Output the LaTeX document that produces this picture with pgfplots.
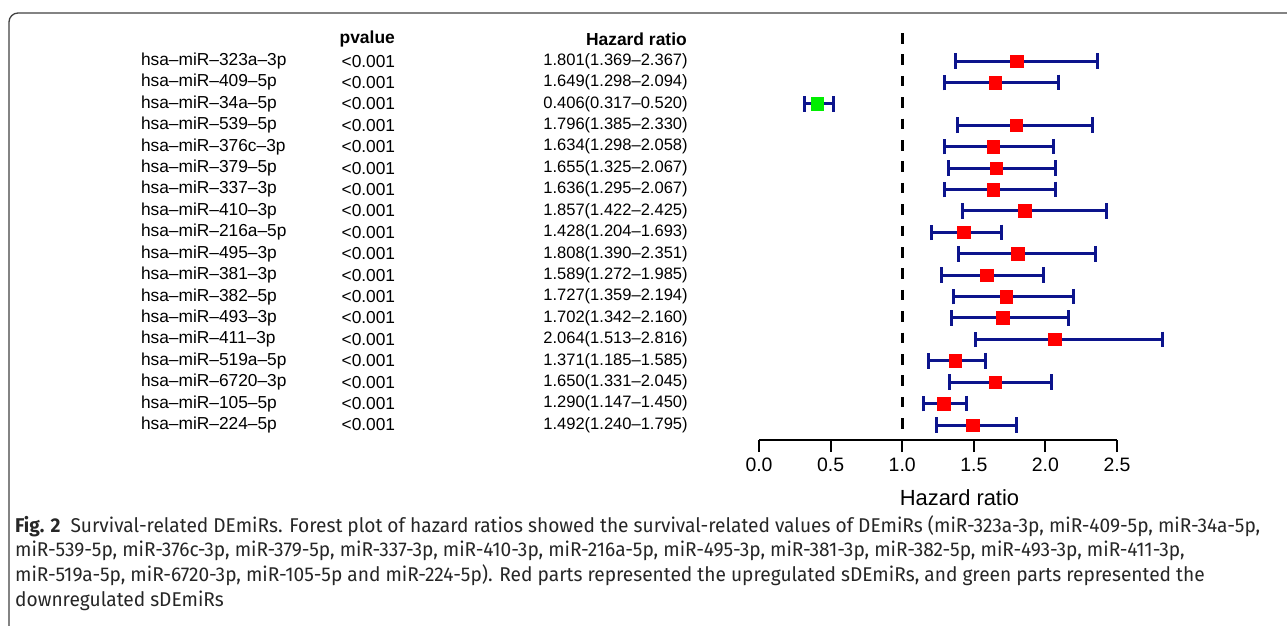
\documentclass[border=0pt]{standalone}
\usepackage{fontspec}
\setmainfont{Liberation Sans}
\newfontfamily\capfont[FakeStretch=0.96]{Fira Sans}
\usepackage{pgfplots}
\pgfplotsset{compat=1.18}
\usepackage{pgfplotstable}

\definecolor{barblue}{RGB}{12,20,140}
\definecolor{sqred}{RGB}{255,0,0}
\definecolor{sqgreen}{RGB}{0,238,0}

\newcommand\rowfont{\fontsize{17.4}{20}\selectfont}
\newcommand\hrfont{\fontsize{16.6}{20}\selectfont}

% hazard ratios with 95% CI, row 1 at the top
\pgfplotstableread{
idx name            pv     hr    lo    hi    lab
1   hsa–miR–323a–3p  <0.001 1.801 1.369 2.367 1.801(1.369–2.367)
2   hsa–miR–409–5p   <0.001 1.649 1.298 2.094 1.649(1.298–2.094)
3   hsa–miR–34a–5p   <0.001 0.406 0.317 0.520 0.406(0.317–0.520)
4   hsa–miR–539–5p   <0.001 1.796 1.385 2.330 1.796(1.385–2.330)
5   hsa–miR–376c–3p  <0.001 1.634 1.298 2.058 1.634(1.298–2.058)
6   hsa–miR–379–5p   <0.001 1.655 1.325 2.067 1.655(1.325–2.067)
7   hsa–miR–337–3p   <0.001 1.636 1.295 2.067 1.636(1.295–2.067)
8   hsa–miR–410–3p   <0.001 1.857 1.422 2.425 1.857(1.422–2.425)
9   hsa–miR–216a–5p  <0.001 1.428 1.204 1.693 1.428(1.204–1.693)
10  hsa–miR–495–3p   <0.001 1.808 1.390 2.351 1.808(1.390–2.351)
11  hsa–miR–381–3p   <0.001 1.589 1.272 1.985 1.589(1.272–1.985)
12  hsa–miR–382–5p   <0.001 1.727 1.359 2.194 1.727(1.359–2.194)
13  hsa–miR–493–3p   <0.001 1.702 1.342 2.160 1.702(1.342–2.160)
14  hsa–miR–411–3p   <0.001 2.064 1.513 2.816 2.064(1.513–2.816)
15  hsa–miR–519a–5p  <0.001 1.371 1.185 1.585 1.371(1.185–1.585)
16  hsa–miR–6720–3p  <0.001 1.650 1.331 2.045 1.650(1.331–2.045)
17  hsa–miR–105–5p   <0.001 1.290 1.147 1.450 1.290(1.147–1.450)
18  hsa–miR–224–5p   <0.001 1.492 1.240 1.795 1.492(1.240–1.795)
}\hrdata

\begin{document}
\begin{tikzpicture}
\useasboundingbox (0,0) rectangle (1287bp,-626bp);
\draw[line width=1.3bp, black!75, rounded corners=9bp]
  (1295bp,-13bp) -- (9bp,-13bp) -- (9bp,-635bp);

\begin{axis}[
  at={(759bp,-440bp)}, anchor=south west,
  scale only axis, width=358bp, height=407bp,
  xmin=0, xmax=2.5, ymin=-18.7, ymax=0.31,
  clip=false,
  axis x line*=bottom, axis y line=none,
  axis line style={line width=2bp, black},
  xtick={0,0.5,1,1.5,2,2.5},
  xticklabels={0.0,0.5,1.0,1.5,2.0,2.5},
  tick align=outside, major tick length=12bp,
  tick style={line width=2bp, black},
  xticklabel style={font=\fontsize{19.5}{22}\selectfont, anchor=center, yshift=-13bp},
  xlabel={Hazard ratio},
  xlabel style={font=\fontsize{22}{24}\selectfont, at={(axis description cs:0.56,0)}, anchor=center, yshift=-58bp},
]
% reference line at HR = 1
\addplot[black, line width=3bp, dash pattern=on 10.5bp off 10.9bp] coordinates {(1,0.31) (1,-18.7)};

% confidence intervals
\addplot[only marks, mark=none,
  error bars/.cd, x dir=both, x explicit,
  error bar style={line width=3bp, barblue},
  error mark options={rotate=90, line width=3bp, barblue, mark size=7.8bp}]
  table[x=hr, y expr=-\thisrow{idx},
        x error plus expr=\thisrow{hi}-\thisrow{hr},
        x error minus expr=\thisrow{hr}-\thisrow{lo}] {\hrdata};

% point estimates: up (red), down (green)
\addplot[only marks, mark=square*, mark size=6.3bp, sqred,
  skip coords between index={2}{3}]
  table[x=hr, y expr=-\thisrow{idx}] {\hrdata};
\addplot[only marks, mark=square*, mark size=6.3bp, sqgreen,
  skip coords between index={0}{2}, skip coords between index={3}{18}]
  table[x=hr, y expr=-\thisrow{idx}] {\hrdata};

% text columns
\addplot[only marks, mark=none, nodes near coords, point meta=explicit symbolic,
  every node near coord/.append style={anchor=west, inner sep=0pt, font=\rowfont, black}]
  table[x expr=-4.317, y expr=-\thisrow{idx}, meta=name] {\hrdata};
\addplot[only marks, mark=none, nodes near coords, point meta=explicit symbolic,
  every node near coord/.append style={anchor=west, inner sep=0pt, font=\rowfont, black}]
  table[x expr=-2.916, y expr=-\thisrow{idx}, meta=pv] {\hrdata};
\addplot[only marks, mark=none, nodes near coords, point meta=explicit symbolic,
  every node near coord/.append style={anchor=east, inner sep=0pt, font=\hrfont, black}]
  table[x expr=-0.4965, y expr=-\thisrow{idx}, meta=lab] {\hrdata};

\node[anchor=west, inner sep=0pt, font=\fontsize{17.5}{20}\selectfont\bfseries] at (axis cs:-2.93,0.03) {pvalue};
\node[anchor=east, inner sep=0pt, font=\fontsize{17.5}{20}\selectfont\bfseries] at (axis cs:-0.503,0.03) {Hazard ratio};
\end{axis}

\node[anchor=north west, inner sep=0pt, align=left, text=black!85,
  font=\capfont\fontsize{20}{24.8}\selectfont] at (15bp,-515bp) {%
\textbf{Fig. 2}\ \ Survival-related DEmiRs. Forest plot of hazard ratios showed the survival-related values of DEmiRs (miR-323a-3p, miR-409-5p, miR-34a-5p,\\
miR-539-5p, miR-376c-3p, miR-379-5p, miR-337-3p, miR-410-3p, miR-216a-5p, miR-495-3p, miR-381-3p, miR-382-5p, miR-493-3p, miR-411-3p,\\
miR-519a-5p, miR-6720-3p, miR-105-5p and miR-224-5p). Red parts represented the upregulated sDEmiRs, and green parts represented the\\
downregulated sDEmiRs};
\end{tikzpicture}
\end{document}
